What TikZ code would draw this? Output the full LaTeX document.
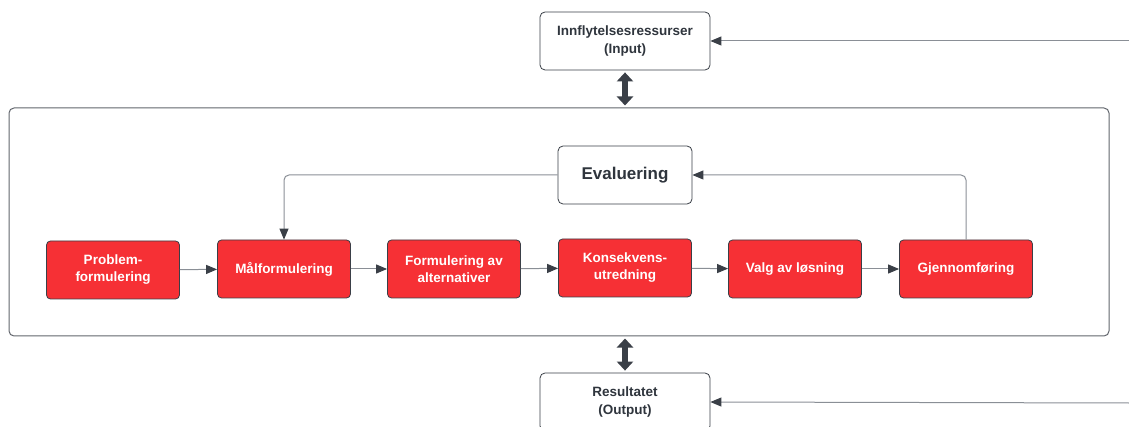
\documentclass[tikz,border=0pt]{standalone}
\usepackage{fontspec}
\setmainfont{Liberation Sans}
\usetikzlibrary{arrows.meta}
\definecolor{boxred}{HTML}{F63035}
\definecolor{edgegray}{HTML}{3A3F47}
\definecolor{linegray}{HTML}{8A8F96}
\definecolor{textgray}{HTML}{2F353D}

\begin{document}
\begin{tikzpicture}[x=1pt,y=-1pt,
    stepbox/.style={rectangle,rounded corners=4pt,draw=edgegray,fill=boxred,text=white,
        font=\bfseries\fontsize{13.5}{17}\selectfont,minimum width=133pt,minimum height=58pt,
        align=center,line width=0.8pt,inner sep=2pt},
    whitebox/.style={rectangle,rounded corners=5pt,draw=edgegray,fill=white,text=textgray,
        font=\bfseries\fontsize{13.5}{18}\selectfont,minimum width=170pt,minimum height=58pt,
        align=center,line width=0.8pt},
    flow/.style={draw=linegray,line width=1pt,-{Triangle[length=11pt,width=9pt,color=edgegray]}},
    dbl/.style={draw=edgegray,line width=6pt,
        {Triangle[length=9pt,width=16pt]}-{Triangle[length=9pt,width=16pt]},shorten <=2pt,shorten >=2pt}]
    \useasboundingbox (0,0) rectangle (1129,427);
    % outer frame
    \node[rectangle,rounded corners=5pt,draw=edgegray!80,line width=1pt,
        minimum width=1100pt,minimum height=228pt] (frame) at (559,222) {};
    % input / output
    \node[whitebox] (input) at (625,41) {Innflytelsesressurser\\(Input)};
    \node[whitebox] (output) at (625,402) {Resultatet\\(Output)};
    \coordinate (inR) at (1129,41);
    \coordinate (outR) at (1129,403);
    % evaluation
    \node[whitebox,minimum width=134pt,font=\bfseries\fontsize{17}{20}\selectfont] (eval) at (625,175) {Evaluering};
    % steps
    \node[stepbox] (problem) at (113,270) {Problem-\\formulering};
    \node[stepbox] (maal) at (284,269) {Målformulering};
    \node[stepbox] (alt) at (454,269) {Formulering av\\alternativer};
    \node[stepbox] (kons) at (625,268) {Konsekvens-\\utredning};
    \node[stepbox] (valg) at (795,269) {Valg av løsning};
    \node[stepbox] (gjen) at (966,269) {Gjennomføring};
    % arrows
    \draw[flow] (problem) -- (maal);
    \draw[flow] (maal) -- (alt);
    \draw[flow] (alt) -- (kons);
    \draw[flow] (kons) -- (valg);
    \draw[flow] (valg) -- (gjen);
    \draw[flow,rounded corners=5pt] (eval.west) -| (maal.north);
    \draw[flow,rounded corners=5pt] (gjen.north) |- (eval.east);
    \draw[flow] (inR) -- (input.east);
    \draw[flow] (outR) -- (output.east);
    \draw[dbl] (input.south) -- (frame.north -| input.south);
    \draw[dbl] (frame.south -| output.north) -- (output.north);
\end{tikzpicture}
\end{document}
